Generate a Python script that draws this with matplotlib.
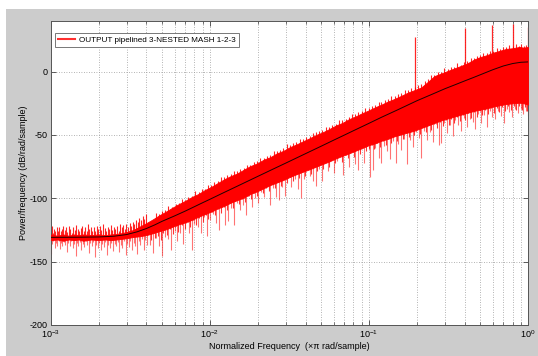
import numpy as np
import matplotlib
matplotlib.use("Agg")
import matplotlib.pyplot as plt
from matplotlib.patches import Rectangle
from matplotlib.lines import Line2D
from matplotlib.ticker import LogLocator, NullFormatter

plt.rcParams['font.family'] = ['Liberation Sans', 'DejaVu Sans']
plt.rcParams['mathtext.default'] = 'regular'
plt.rcParams['axes.unicode_minus'] = False

# ---------------- data ----------------
# smooth (black) PSD curve
smooth_f = [0.001, 0.0015, 0.002, 0.0025, 0.003, 0.0035, 0.004, 0.0045, 0.005, 0.006,
            0.007, 0.008, 0.009, 0.01, 0.012, 0.015, 0.02, 0.025, 0.03, 0.04, 0.05,
            0.06, 0.07, 0.08, 0.1, 0.12, 0.15, 0.2, 0.25, 0.3, 0.35, 0.4, 0.45, 0.5,
            0.6, 0.7, 0.8, 0.9, 1.0]
smooth_db = [-130.8, -130.7, -130.5, -129.9, -128.6, -126.4, -123.8, -121.0, -118.2, -113.9,
             -110.1, -106.6, -103.5, -100.8, -96.0, -90.2, -82.7, -76.9, -72.2, -64.7, -58.9,
             -54.1, -50.1, -46.6, -40.8, -36.0, -30.4, -23.0, -17.8, -13.5, -10.2, -7.3, -4.8, -2.5,
             1.5, 4.5, 6.4, 7.4, 7.7]

# dense core of the red periodogram: upper and lower edges
band_f = [0.001, 0.0011, 0.0012, 0.0013, 0.0014, 0.0015, 0.0016, 0.0018, 0.002, 0.0022,
          0.0024, 0.0026, 0.0028, 0.003, 0.0033, 0.0036, 0.004, 0.0044, 0.0048, 0.0053,
          0.0058, 0.0064, 0.007, 0.0077, 0.0085, 0.0093, 0.0102, 0.0112, 0.0123, 0.0135,
          0.0148, 0.0163, 0.018, 0.0198, 0.0218, 0.024, 0.0264, 0.029, 0.032, 0.035,
          0.0385, 0.0425, 0.0465, 0.051, 0.056, 0.062, 0.068, 0.075, 0.082, 0.09,
          0.1, 0.11, 0.12, 0.132, 0.145, 0.16, 0.176, 0.194, 0.213, 0.235,
          0.258, 0.284, 0.312, 0.343, 0.378, 0.415, 0.457, 0.5, 0.55, 0.605,
          0.665, 0.73, 0.8, 0.88, 0.94, 1.0]
band_hi = [-128.5, -129.5, -128.5, -129.5, -128.5, -129.0, -128.5, -129.0, -128.5, -129.0,
           -128.5, -128.0, -127.5, -126.5, -125.0, -122.5, -119.5, -116.5, -113.5, -110.5,
           -107.5, -104.5, -102.0, -99.0, -96.5, -93.5, -91.0, -88.0, -85.0, -82.5,
           -80.5, -77.5, -74.5, -72.5, -69.5, -67.5, -64.5, -62.5, -59.5, -57.5,
           -55.0, -52.5, -50.0, -48.0, -45.5, -42.5, -40.5, -37.5, -35.5, -33.0,
           -30.5, -28.0, -26.0, -23.5, -21.5, -19.0, -16.5, -14.5, -12.5, -8.0,
           -3.5, -1.5, 0.5, 2.5, 4.5, 6.5, 9.5, 11.5, 13.0, 15.0,
           16.5, 18.0, 18.5, 19.5, 19.0, 19.5]
band_lo = [-133.0, -132.5, -133.5, -132.5, -133.0, -132.5, -133.5, -132.5, -133.0, -132.5,
           -133.0, -132.5, -132.0, -131.5, -130.5, -130.0, -129.0, -127.5, -126.0, -124.5,
           -122.5, -120.5, -119.0, -117.0, -114.5, -112.5, -110.5, -108.0, -106.0, -103.5,
           -101.5, -99.5, -96.5, -94.5, -92.0, -89.5, -87.5, -85.5, -83.0, -81.0,
           -79.0, -77.0, -75.0, -73.0, -71.0, -68.5, -66.5, -64.5, -62.5, -60.5,
           -58.0, -56.5, -54.5, -53.0, -51.0, -49.5, -48.0, -46.5, -44.5, -42.5,
           -40.5, -38.5, -37.0, -35.5, -34.0, -32.5, -31.0, -30.0, -29.0, -27.5,
           -26.5, -25.5, -25.0, -24.5, -25.0, -26.0]

# upward noise excursions, low band (frequency in 1e-3 units, peak dB)
up_low_fm = [1.005, 1.02, 1.035, 1.05, 1.07, 1.09, 1.11, 1.13, 1.155, 1.175,
             1.2, 1.225, 1.25, 1.275, 1.3, 1.33, 1.36, 1.39, 1.42, 1.45,
             1.48, 1.51, 1.54, 1.575, 1.61, 1.645, 1.68, 1.715, 1.75, 1.79,
             1.83, 1.87, 1.91, 1.95, 1.995, 2.04, 2.085, 2.13, 2.18, 2.23,
             2.28, 2.33, 2.385, 2.44, 2.495, 2.55, 2.61, 2.67, 2.73, 2.79,
             2.855, 2.92, 2.99, 3.06, 3.13, 3.2, 3.28, 3.36, 3.44, 3.52,
             3.61, 3.7, 3.79, 3.88, 3.98]
up_low_db = [-125.0, -122.0, -127.0, -124.0, -126.0, -123.0, -125.5, -122.5, -126.0, -124.0,
             -121.5, -125.0, -123.0, -126.5, -122.0, -124.5, -127.0, -123.0, -125.0, -121.0,
             -124.0, -126.0, -123.5, -122.0, -125.5, -123.0, -126.0, -120.5, -124.0, -122.5,
             -125.5, -123.0, -126.0, -121.5, -124.5, -122.0, -125.0, -120.0, -123.5, -126.0,
             -122.5, -124.5, -121.0, -125.0, -122.5, -124.0, -121.5, -125.5, -120.5, -123.0,
             -121.0, -124.5, -120.0, -122.5, -119.5, -121.5, -118.5, -120.5, -117.0, -119.0,
             -115.5, -117.5, -114.0, -116.0, -112.5]

# upward roughness along the top edge, mid/high band
up_high_f = [0.0046, 0.005, 0.0055, 0.0061, 0.0067, 0.0073, 0.0081, 0.0089, 0.0097, 0.0107,
             0.0117, 0.0129, 0.0141, 0.0155, 0.0171, 0.0189, 0.0208, 0.0229, 0.0252, 0.0277,
             0.0305, 0.0335, 0.0367, 0.0405, 0.0445, 0.0487, 0.0535, 0.059, 0.065, 0.0715,
             0.0785, 0.086, 0.095, 0.105, 0.115, 0.126, 0.138, 0.152, 0.168, 0.185,
             0.203, 0.224, 0.246, 0.271, 0.298, 0.327, 0.36, 0.396, 0.436, 0.478,
             0.525, 0.577, 0.635, 0.697, 0.765, 0.84, 0.91, 0.97]
up_high_db = [-111.5, -110.0, -106.0, -104.5, -100.5, -99.0, -94.5, -93.0, -89.5, -87.5,
              -83.5, -81.5, -78.5, -77.0, -73.5, -71.5, -68.0, -66.5, -63.0, -61.5,
              -57.5, -56.5, -53.0, -51.5, -48.5, -46.5, -43.5, -42.0, -38.5, -37.0,
              -33.5, -32.0, -28.5, -27.0, -24.0, -22.5, -19.5, -18.0, -14.5, -13.0,
              -10.5, -7.5, -3.0, 0.0, 2.5, 3.5, 6.5, 7.5, 11.0, 12.5,
              15.0, 16.0, 18.5, 19.5, 21.0, 21.5, 22.0, 21.0]

# finer upward roughness between the previous ones
up_fine_f = [0.0048, 0.0052, 0.0058, 0.0064, 0.007, 0.0077, 0.0085, 0.0093, 0.0102, 0.0112,
             0.0123, 0.0135, 0.0148, 0.0163, 0.018, 0.0198, 0.0218, 0.024, 0.0264, 0.029,
             0.032, 0.035, 0.0385, 0.0425, 0.0465, 0.051, 0.056, 0.062, 0.068, 0.075,
             0.082, 0.09, 0.1, 0.11, 0.12, 0.132, 0.145, 0.16, 0.176, 0.194,
             0.213, 0.235, 0.258, 0.284, 0.312, 0.343, 0.378, 0.415, 0.457, 0.5,
             0.55, 0.605, 0.665, 0.73, 0.8, 0.88, 0.94]
up_fine_db = [-112.0, -109.0, -106.5, -103.5, -101.0, -98.0, -95.0, -92.5, -89.5, -86.5,
              -83.5, -81.0, -78.5, -76.0, -73.5, -70.5, -68.0, -65.5, -63.0, -60.5,
              -58.0, -55.5, -53.0, -50.5, -48.0, -46.0, -43.5, -41.0, -38.5, -36.0,
              -33.5, -31.0, -28.5, -26.5, -24.0, -21.5, -19.5, -17.0, -14.5, -12.5,
              -10.0, -6.0, -2.5, 0.0, 2.0, 4.0, 5.5, 8.5, 10.5, 13.0,
              14.5, 16.5, 18.0, 19.5, 20.0, 20.5, 20.5]

# downward noise excursions, low band (frequency in 1e-3 units, dip dB)
dn_low_fm = [1.01, 1.025, 1.04, 1.06, 1.08, 1.1, 1.12, 1.145, 1.165, 1.185,
             1.21, 1.235, 1.26, 1.29, 1.315, 1.345, 1.375, 1.405, 1.435, 1.465,
             1.495, 1.525, 1.56, 1.595, 1.63, 1.665, 1.7, 1.735, 1.77, 1.81,
             1.85, 1.89, 1.93, 1.97, 2.015, 2.06, 2.105, 2.155, 2.205, 2.255,
             2.305, 2.355, 2.41, 2.465, 2.52, 2.58, 2.64, 2.7, 2.76, 2.82,
             2.89, 2.96, 3.03, 3.1, 3.17, 3.24, 3.32, 3.4, 3.48, 3.565,
             3.655, 3.745, 3.835, 3.93, 4.03]
dn_low_db = [-144.0, -136.0, -133.5, -139.0, -135.0, -137.5, -134.0, -140.0, -135.5, -138.0,
             -134.5, -136.5, -142.0, -135.0, -137.5, -134.0, -139.5, -136.0, -145.5, -135.0,
             -138.0, -134.5, -141.0, -136.0, -138.5, -134.0, -137.0, -143.0, -135.5, -138.0,
             -134.5, -146.0, -136.5, -139.0, -135.0, -140.5, -136.0, -138.5, -134.5, -145.0,
             -137.0, -139.5, -135.0, -141.5, -136.0, -138.0, -134.5, -142.0, -136.5, -139.0,
             -134.0, -144.5, -136.0, -138.5, -134.0, -141.0, -135.5, -137.5, -144.0, -134.0,
             -137.0, -132.5, -141.0, -133.0, -136.5]

# downward noise excursions, mid band
dn_mid_f = [0.0042, 0.0044, 0.0046, 0.0048, 0.005, 0.0052, 0.0055, 0.0057, 0.006, 0.0062,
            0.0065, 0.0068, 0.0071, 0.0074, 0.0077, 0.008, 0.0084, 0.0088, 0.0092, 0.0096,
            0.01, 0.0105, 0.011, 0.0115, 0.012, 0.0125, 0.013, 0.0136, 0.0142, 0.0148,
            0.0155, 0.0162, 0.0169, 0.0177, 0.0185, 0.0193, 0.0202, 0.0211, 0.022, 0.023,
            0.024, 0.0251, 0.0262, 0.0274, 0.0286, 0.0299, 0.0312, 0.0326, 0.0341, 0.0356,
            0.0372, 0.0389, 0.0406, 0.0424, 0.0443, 0.0463, 0.0484, 0.0506, 0.0528, 0.0552,
            0.0577, 0.0603, 0.063, 0.0658, 0.0688, 0.0719, 0.0751, 0.0785, 0.082, 0.0857,
            0.0896, 0.0936, 0.0978]
dn_mid_db = [-136.6, -143.5, -131.4, -137.4, -145.4, -130.4, -132.1, -141.0, -125.9, -133.3,
             -127.0, -135.8, -119.7, -127.6, -140.6, -120.6, -122.3, -127.1, -115.0, -129.9,
             -116.8, -112.5, -119.3, -125.0, -107.0, -121.0, -118.0, -107.8, -120.7, -103.6,
             -109.4, -105.2, -113.1, -97.9, -106.8, -99.7, -104.0, -95.3, -99.3, -90.1,
             -105.0, -91.8, -98.7, -101.0, -91.4, -98.0, -83.1, -91.0, -84.8, -92.7,
             -99.5, -85.0, -75.3, -82.2, -86.0, -90.5, -76.7, -86.5, -72.4, -78.3,
             -67.1, -80.0, -70.8, -65.7, -81.5, -65.4, -75.0, -60.1, -73.0, -77.5,
             -58.7, -72.0, -58.4]

# downward noise excursions, high band
dn_high_f = [0.102, 0.106, 0.11, 0.115, 0.12, 0.125, 0.13, 0.135, 0.141, 0.147,
             0.153, 0.16, 0.167, 0.174, 0.181, 0.189, 0.197, 0.205, 0.214, 0.223,
             0.232, 0.242, 0.252, 0.263, 0.274, 0.285, 0.297, 0.31, 0.323, 0.336,
             0.35, 0.365, 0.38, 0.396, 0.413, 0.43, 0.448, 0.467, 0.487, 0.507,
             0.528, 0.55, 0.573, 0.597, 0.622, 0.648, 0.675, 0.703, 0.733, 0.763,
             0.795, 0.828, 0.862, 0.898, 0.935, 0.97, 0.995]
dn_high_db = [-83.0, -77.3, -60.3, -68.2, -72.0, -59.0, -63.0, -69.0, -55.0, -71.9,
              -56.9, -61.9, -52.8, -72.7, -53.7, -59.6, -47.4, -52.5, -68.5, -46.6,
              -53.6, -47.6, -55.6, -41.6, -57.7, -56.0, -40.8, -48.8, -41.9, -51.0,
              -38.2, -42.3, -47.0, -36.6, -43.8, -37.0, -40.1, -45.2, -33.2, -40.3,
              -34.3, -43.4, -31.4, -35.4, -37.6, -30.8, -35.1, -40.4, -29.8, -32.2,
              -35.7, -29.3, -33.0, -29.7, -33.5, -31.4, -35.3]

# shallower downward excursions filling the gaps (mid/high band)
dn_fine_f = [0.0043, 0.0045, 0.0047, 0.0049, 0.0051, 0.00535, 0.0056, 0.00585, 0.0061, 0.00635,
             0.00665, 0.00695, 0.00725, 0.00755, 0.00785, 0.0082, 0.0086, 0.009, 0.0094, 0.0098,
             0.01025, 0.01075, 0.01125, 0.01175, 0.01225, 0.01275, 0.0133, 0.0139, 0.0145, 0.01515,
             0.01585, 0.01655, 0.0173, 0.0181, 0.0189, 0.01975, 0.02065, 0.02155, 0.0225, 0.0235,
             0.02455, 0.02565, 0.0268, 0.028, 0.02925, 0.03055, 0.0319, 0.03335, 0.03485, 0.0364,
             0.03805, 0.03975, 0.0415, 0.04335, 0.0453, 0.04735, 0.0495, 0.0517, 0.054, 0.05645,
             0.059, 0.06165, 0.0644, 0.0673, 0.07035, 0.0735, 0.0768, 0.08025, 0.08385, 0.08765,
             0.0916, 0.0957, 0.0999, 0.104, 0.108, 0.1125, 0.1175, 0.1225, 0.1275, 0.1325,
             0.138, 0.144, 0.15, 0.1565, 0.1635, 0.1705, 0.1775, 0.185, 0.193, 0.201,
             0.2095, 0.2185, 0.2275, 0.237, 0.247, 0.2575, 0.2685, 0.2795, 0.291, 0.3035,
             0.3165, 0.3295, 0.343, 0.3575, 0.3725, 0.388, 0.4045, 0.4215, 0.439, 0.4575,
             0.477, 0.497, 0.5175, 0.539, 0.5615, 0.585, 0.6095, 0.635, 0.6615, 0.689,
             0.718, 0.748, 0.779, 0.8115, 0.845, 0.88, 0.9165, 0.9525, 0.9825]
dn_fine_db = [-133.0, -131.0, -129.5, -133.0, -127.0, -129.0, -124.5, -128.0, -122.0, -126.5,
              -121.0, -124.5, -119.0, -122.5, -117.5, -121.0, -115.5, -119.0, -113.0, -116.5,
              -111.0, -113.5, -108.5, -111.5, -106.5, -109.0, -104.0, -107.5, -102.5, -104.5,
              -100.5, -103.0, -98.0, -100.5, -96.0, -98.5, -93.5, -96.0, -91.5, -94.0,
              -89.0, -92.0, -87.0, -90.0, -85.0, -88.0, -83.0, -86.0, -81.0, -84.0,
              -79.0, -82.0, -77.0, -80.5, -75.0, -78.5, -73.0, -77.0, -71.0, -75.0,
              -69.0, -72.5, -67.0, -71.0, -65.0, -68.5, -63.0, -67.0, -61.0, -65.0,
              -59.0, -63.0, -61.0, -58.0, -61.0, -56.0, -59.5, -54.5, -58.0, -52.5,
              -56.0, -51.0, -54.5, -49.5, -53.0, -48.0, -51.5, -46.5, -50.0, -45.0,
              -49.0, -44.0, -47.5, -42.5, -46.0, -41.0, -44.5, -40.0, -43.0, -38.5,
              -42.0, -37.5, -40.5, -36.0, -39.0, -34.5, -38.0, -33.0, -36.5, -32.0,
              -35.5, -31.0, -34.5, -30.0, -33.5, -29.0, -32.5, -28.5, -31.5, -28.0,
              -31.0, -27.5, -30.5, -27.0, -30.0, -27.0, -30.5, -28.0, -31.0]

# spurious tones
tone_f = [0.195, 0.40, 0.595, 0.80, 0.995]
tone_db = [27.6, 34.2, 36.8, 38.0, 35.5]

legend_label = "OUTPUT pipelined 3-NESTED MASH 1-2-3"
x_label = "Normalized Frequency  (\u00d7\u03c0 rad/sample)"
y_label = "Power/frequency (dB/rad/sample)"
x_ticks = [1e-3, 1e-2, 1e-1, 1e0]
x_tick_labels = ['$10^{-3}$', '$10^{-2}$', '$10^{-1}$', '$10^{0}$']
y_ticks = [-200, -150, -100, -50, 0]
y_tick_labels = ['-200', '-150', '-100', '-50', '0']

# ---------------- figure ----------------
W, H = 538, 356
fig = plt.figure(figsize=(W / 100, H / 100), dpi=100, facecolor='white')
fig.add_artist(Rectangle((6 / W, 0), 1 - 6 / W, (H - 9) / H, transform=fig.transFigure,
                         facecolor='#cccccc', edgecolor='none', zorder=-10))
ax = fig.add_axes([50.7 / W, (H - 325) / H, (528 - 50.7) / W, (325 - 21) / H])
ax.set_facecolor('white')

red = '#ff0000'
lsf, lsd = np.log10(smooth_f), np.array(smooth_db)


def base(freqs):
    return np.interp(np.log10(freqs), lsf, lsd)


up_f = np.concatenate([np.array(up_low_fm) * 1e-3, up_high_f, up_fine_f])
up_db = np.concatenate([up_low_db, up_high_db, up_fine_db])
dn_f = np.concatenate([np.array(dn_low_fm) * 1e-3, dn_mid_f, dn_high_f])
dn_db = np.concatenate([dn_low_db, dn_mid_db, dn_high_db])

ax.vlines(dn_f, dn_db, base(dn_f), colors=red, alpha=0.55, lw=0.8, zorder=2)
ax.vlines(dn_fine_f, dn_fine_db, base(dn_fine_f), colors=red, alpha=0.8, lw=0.8, zorder=2)
ax.vlines(up_f, base(up_f), up_db, colors=red, alpha=0.85, lw=0.8, zorder=2)
ax.vlines(tone_f, base(tone_f), tone_db, colors=red, alpha=0.85, lw=0.9, zorder=2)
ax.fill_between(band_f, band_lo, band_hi, color=red, lw=0.6, edgecolor=red, zorder=3)
ax.plot(smooth_f, smooth_db, color='#200000', lw=0.7, zorder=4)

ax.set_xscale('log')
ax.set_xlim(1e-3, 1)
ax.set_ylim(-200, 40)
ax.set_xticks(x_ticks)
ax.set_xticklabels(x_tick_labels)
ax.xaxis.set_minor_locator(LogLocator(base=10, subs=np.arange(2, 10)))
ax.xaxis.set_minor_formatter(NullFormatter())
ax.set_yticks(y_ticks)
ax.set_yticklabels(y_tick_labels)

ax.grid(True, which='major', axis='both', color='#9a9a9a', ls=(0, (1, 2)), lw=0.6)
ax.grid(True, which='minor', axis='x', color='#9a9a9a', ls=(0, (1, 2)), lw=0.6)
ax.set_axisbelow(True)
ax.tick_params(which='both', direction='in', top=True, right=True, labelsize=6.5,
               color='#444444', pad=2.5)
ax.tick_params(which='major', length=3.5, width=0.6)
ax.tick_params(which='minor', length=2, width=0.5)
for s in ax.spines.values():
    s.set_color('#555555')
    s.set_linewidth(0.7)

ax.set_xlabel(x_label, fontsize=6.5)
ax.set_ylabel(y_label, fontsize=6.5)
ax.xaxis.set_label_coords(0.5, -0.055)
ax.yaxis.set_label_coords(-0.048, 0.5)

handle = Line2D([], [], color='#ff3030', lw=1.5)
leg = ax.legend([handle], [legend_label], loc='upper left', bbox_to_anchor=(0.009, 0.961),
                borderaxespad=0, fontsize=5.9, handlelength=2.1, handletextpad=0.4,
                borderpad=0.4, fancybox=False, framealpha=1)
leg.get_frame().set_edgecolor('#777777')
leg.get_frame().set_linewidth(0.7)

fig.savefig('out.png', dpi=100, facecolor=fig.get_facecolor())
